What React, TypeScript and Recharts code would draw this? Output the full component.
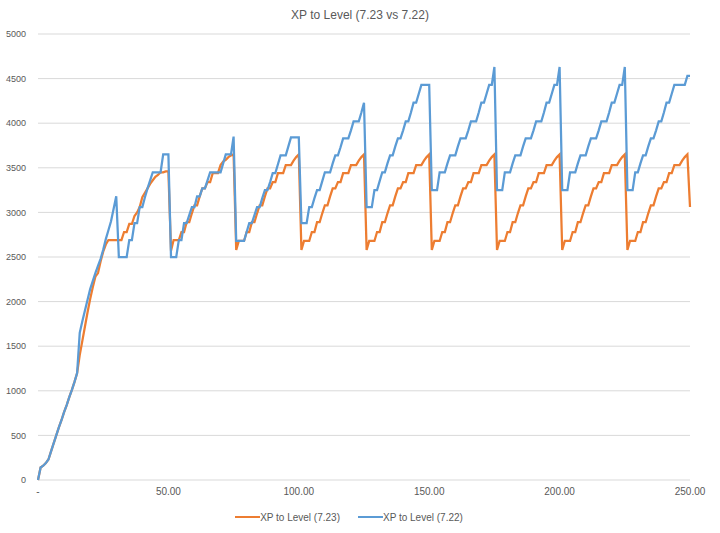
import React from 'react';
import { LineChart, Line, XAxis, YAxis, CartesianGrid, Legend } from 'recharts';

// level number on the x axis (0..250)
const levels = Array.from({ length: 251 }, (_, i) => i);

// XP to Level, patch 7.23 (orange)
const xp723 = [
  0, 140, 160, 190, 230, 320, 410, 500, 590, 670, 760, 840, 930, 1010, 1100, 1200, 1400, 1560, 1720, 1880, 2030, 2160, 2280, 2320, 2450,
  2560, 2640, 2690, 2690, 2690, 2690, 2690, 2690, 2780, 2780, 2870, 2870, 2960, 3000, 3060, 3170, 3220, 3270, 3320, 3360, 3400, 3420, 3450, 3450, 3460,
  3460, 2570, 2690, 2690, 2690, 2780, 2780, 2890, 2890, 2990, 3080, 3080, 3180, 3270, 3270, 3340, 3340, 3440, 3440, 3440, 3530, 3570, 3590, 3620, 3640,
  3650, 2580, 2680, 2680, 2680, 2780, 2780, 2890, 2890, 2990, 3080, 3080, 3180, 3270, 3270, 3340, 3340, 3440, 3440, 3440, 3530, 3530, 3530, 3580, 3620,
  3650, 2580, 2680, 2680, 2680, 2780, 2780, 2890, 2890, 2990, 3080, 3080, 3180, 3270, 3270, 3340, 3340, 3440, 3440, 3440, 3530, 3530, 3530, 3580, 3620,
  3650, 2580, 2680, 2680, 2680, 2780, 2780, 2890, 2890, 2990, 3080, 3080, 3180, 3270, 3270, 3340, 3340, 3440, 3440, 3440, 3530, 3530, 3530, 3580, 3620,
  3650, 2580, 2680, 2680, 2680, 2780, 2780, 2890, 2890, 2990, 3080, 3080, 3180, 3270, 3270, 3340, 3340, 3440, 3440, 3440, 3530, 3530, 3530, 3580, 3620,
  3650, 2580, 2680, 2680, 2680, 2780, 2780, 2890, 2890, 2990, 3080, 3080, 3180, 3270, 3270, 3340, 3340, 3440, 3440, 3440, 3530, 3530, 3530, 3580, 3620,
  3650, 2580, 2680, 2680, 2680, 2780, 2780, 2890, 2890, 2990, 3080, 3080, 3180, 3270, 3270, 3340, 3340, 3440, 3440, 3440, 3530, 3530, 3530, 3580, 3620,
  3650, 2580, 2680, 2680, 2680, 2780, 2780, 2890, 2890, 2990, 3080, 3080, 3180, 3270, 3270, 3340, 3340, 3440, 3440, 3530, 3530, 3530, 3580, 3620, 3650,
  3060,
];

// XP to Level, patch 7.22 (blue)
const xp722 = [
  0, 140, 160, 190, 230, 320, 410, 500, 590, 670, 760, 840, 930, 1010, 1100, 1200, 1650, 1780, 1900, 2020, 2140, 2230, 2320, 2400, 2480,
  2580, 2700, 2800, 2900, 3040, 3180, 2500, 2500, 2500, 2500, 2690, 2690, 2880, 2880, 3060, 3060, 3170, 3270, 3360, 3450, 3450, 3450, 3450, 3650, 3650,
  3650, 2500, 2500, 2500, 2690, 2690, 2880, 2880, 2970, 3060, 3060, 3180, 3180, 3270, 3270, 3360, 3450, 3450, 3450, 3450, 3450, 3550, 3650, 3650, 3650,
  3850, 2680, 2680, 2680, 2680, 2780, 2880, 2880, 2970, 3060, 3060, 3160, 3250, 3250, 3340, 3440, 3440, 3540, 3640, 3640, 3640, 3740, 3840, 3840, 3840,
  3840, 2880, 2880, 2880, 3060, 3060, 3160, 3250, 3250, 3350, 3450, 3450, 3450, 3550, 3640, 3640, 3730, 3830, 3830, 3830, 3920, 4020, 4020, 4020, 4120,
  4230, 3060, 3060, 3060, 3250, 3250, 3350, 3450, 3450, 3550, 3640, 3640, 3740, 3830, 3830, 3920, 4020, 4020, 4120, 4230, 4230, 4330, 4430, 4430, 4430,
  4430, 3250, 3250, 3250, 3450, 3450, 3450, 3550, 3640, 3640, 3640, 3740, 3830, 3830, 3830, 3920, 4020, 4020, 4020, 4120, 4230, 4230, 4330, 4430, 4430,
  4630, 3250, 3250, 3250, 3450, 3450, 3450, 3550, 3640, 3640, 3640, 3740, 3830, 3830, 3830, 3920, 4020, 4020, 4020, 4120, 4230, 4230, 4330, 4430, 4430,
  4630, 3250, 3250, 3250, 3450, 3450, 3450, 3550, 3640, 3640, 3640, 3740, 3830, 3830, 3830, 3920, 4020, 4020, 4020, 4120, 4230, 4230, 4330, 4430, 4430,
  4630, 3250, 3250, 3250, 3450, 3450, 3550, 3640, 3640, 3740, 3830, 3830, 3920, 4020, 4020, 4120, 4230, 4230, 4330, 4430, 4430, 4430, 4430, 4430, 4530,
  4530,
];

const xTicks = [0, 50, 100, 150, 200, 250];
const yTicks = [0, 500, 1000, 1500, 2000, 2500, 3000, 3500, 4000, 4500, 5000];

const seriesNames = ['XP to Level (7.23)', 'XP to Level (7.22)'];
const seriesColors = ['#ED7D31', '#5B9BD5'];

const data = levels.map((level, i) => ({
  level,
  v723: xp723[i],
  v722: xp722[i],
}));

const font = '"Liberation Sans", Arial, sans-serif';
const grey = '#595959';

function LegendBox() {
  return (
    <div style={{ display: 'flex', justifyContent: 'center', gap: 18, fontFamily: font, fontSize: 10, color: grey, height: 14, alignItems: 'center' }}>
      {seriesNames.map((name, i) => (
        <div key={name} style={{ display: 'flex', alignItems: 'center' }}>
          <span style={{ display: 'inline-block', width: 25, height: 2, background: seriesColors[i] }} />
          <span>{name}</span>
        </div>
      ))}
    </div>
  );
}

export default function App() {
  return (
    <div style={{ position: 'absolute', left: 0, top: 0, width: 720, height: 533, background: '#fff', fontFamily: font }}>
      <div style={{ position: 'absolute', top: 8, left: 0, width: 720, textAlign: 'center', fontSize: 12, lineHeight: '14px', color: grey }}>
        XP to Level (7.23 vs 7.22)
      </div>
      <LineChart width={720} height={533} data={data} margin={{ top: 34, right: 30, left: 8, bottom: 19 }}>
        <CartesianGrid vertical={false} stroke="#D9D9D9" />
        <XAxis
          dataKey="level"
          type="number"
          domain={[0, 250]}
          ticks={xTicks}
          tickFormatter={(v: number) => (v === 0 ? '-' : v.toFixed(2))}
          axisLine={false}
          tickLine={false}
          height={20}
          tick={{ fontSize: 10, fill: grey, fontFamily: font }}
        />
        <YAxis
          domain={[0, 5000]}
          ticks={yTicks}
          axisLine={false}
          tickLine={false}
          width={30}
          tickMargin={6}
          tick={{ fontSize: 9, fill: grey, fontFamily: font }}
        />
        <Legend verticalAlign="bottom" height={14} wrapperStyle={{ bottom: 9 }} content={() => <LegendBox />} />
        <Line type="linear" dataKey="v723" name={seriesNames[0]} stroke={seriesColors[0]} strokeWidth={2.25} dot={false} isAnimationActive={false} />
        <Line type="linear" dataKey="v722" name={seriesNames[1]} stroke={seriesColors[1]} strokeWidth={2.25} dot={false} isAnimationActive={false} />
      </LineChart>
    </div>
  );
}
